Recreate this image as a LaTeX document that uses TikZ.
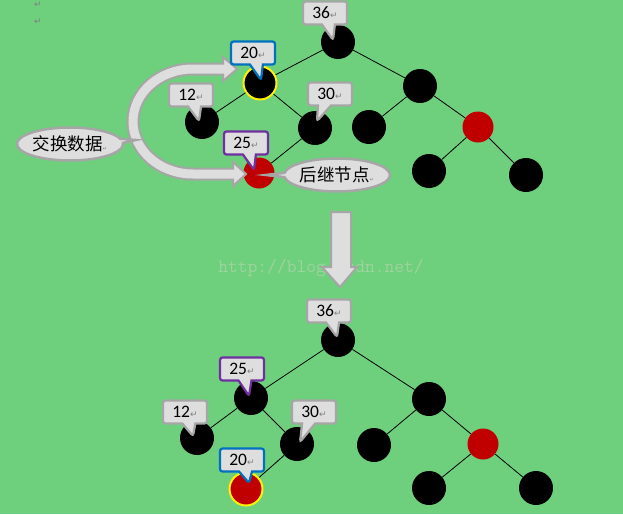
\documentclass[tikz,border=0pt]{standalone}
\usepackage{fontspec}
\setmainfont{Carlito}
\newfontfamily\cjk{Noto Sans CJK SC}
\newfontfamily\symf{DejaVu Sans}
\usetikzlibrary{shapes.callouts}

\definecolor{bggreen}{RGB}{110,207,125}
\definecolor{boxfill}{RGB}{222,222,222}
\definecolor{boxline}{RGB}{166,166,166}
\definecolor{selblue}{RGB}{0,112,192}
\definecolor{selpurple}{RGB}{112,48,160}
\definecolor{nodered}{RGB}{192,0,0}
\definecolor{markgray}{RGB}{128,128,128}
\definecolor{wmark}{RGB}{158,212,158}

\newcommand{\ret}{{\symf\fontsize{9}{9}\selectfont\color{markgray}↵}}

\tikzset{
  bnode/.style={circle, fill=black, minimum size=34, inner sep=0},
  rnode/.style={circle, fill=nodered, minimum size=31, inner sep=0},
  hinode/.style={circle, fill=#1, draw=yellow, line width=2, minimum size=33, inner sep=0},
  link/.style={line width=0.8},
  keybox/.style={rectangle callout, rounded corners=2.5, fill=boxfill, draw=#1,
    line width=2.2, minimum width=44, minimum height=23, inner sep=0,
    callout pointer width=13, font=\fontsize{17.5}{17.5}\selectfont},
  saybox/.style={ellipse callout, fill=boxfill, draw=boxline, line width=2.5,
    minimum width=106, minimum height=33, inner sep=0,
    font=\cjk\fontsize{17.5}{17.5}\selectfont},
  shaft/.style={line width=#1, line cap=butt},
  arrowhd/.style={fill=boxfill, draw=boxline, line width=2, line join=miter}
}

\begin{document}
\begin{tikzpicture}[x=1pt, y=-1pt]
\fill[bggreen] (0,0) rectangle (623,514);
\useasboundingbox (0,0) rectangle (623,514);

% paragraph marks and watermark
\node (ret1) at (38,5) {\ret};
\node (ret2) at (38,22) {\ret};
\node[text=wmark, font=\ttfamily\fontsize{19}{19}\selectfont] (wm) at (321,268) {http://blog.csdn.net/};

% top tree
\node[bnode] (a36) at (338,42) {};
\node[hinode=black] (a20) at (260,83) {};
\node[bnode] (a12) at (202,122) {};
\node[bnode] (a30) at (315,128) {};
\node[rnode] (a25) at (259,173) {};
\node[bnode] (aR) at (420,86) {};
\node[bnode] (aRL) at (369,127) {};
\node[rnode] (aRR) at (478,127) {};
\node[bnode] (aRRL) at (429,171) {};
\node[bnode] (aRRR) at (526,175) {};

\draw[link] (a36) -- (a20);
\draw[link] (a36) -- (aR);
\draw[link] (a20) -- (a12);
\draw[link] (a20) -- (a30);
\draw[link] (a30) -- (a25);
\draw[link] (aR) -- (aRL);
\draw[link] (aR) -- (aRR);
\draw[link] (aRR) -- (aRRL);
\draw[link] (aRR) -- (aRRR);

% swap arrow
\draw[shaft=13, boxline] (226,69) -- (193,69) arc[start angle=270, end angle=90, x radius=60, y radius=52.5] -- (235,174);
\filldraw[arrowhd] (223,57) -- (237,69) -- (223,81) -- cycle;
\filldraw[arrowhd] (233,162) -- (246,174) -- (233,186) -- cycle;
\draw[shaft=9, boxfill] (225,69) -- (193,69) arc[start angle=270, end angle=90, x radius=60, y radius=52.5] -- (235,174);

% down arrow
\filldraw[arrowhd] (331,212) -- (351,212) -- (351,267) -- (357,267) -- (340,287)
  -- (322,267) -- (331,267) -- cycle;

% bottom tree
\node[bnode] (b36) at (338,340) {};
\node[bnode] (b25) at (251,398) {};
\node[bnode] (b12) at (197,438) {};
\node[bnode] (b30) at (297,444) {};
\node[hinode=nodered] (b20) at (246,489) {};
\node[bnode] (bR) at (429,399) {};
\node[bnode] (bRL) at (374,445) {};
\node[rnode] (bRR) at (483,444) {};
\node[bnode] (bRRL) at (429,488) {};
\node[bnode] (bRRR) at (536,488) {};

\draw[link] (b36) -- (b25);
\draw[link] (b36) -- (bR);
\draw[link] (b25) -- (b12);
\draw[link] (b25) -- (b30);
\draw[link] (b30) -- (b20);
\draw[link] (bR) -- (bRL);
\draw[link] (bR) -- (bRR);
\draw[link] (bRR) -- (bRRL);
\draw[link] (bRR) -- (bRRR);

% labels, top
\node[keybox=boxline, callout absolute pointer={(333,40)}] (ka36) at (325,13) {36\ret};
\node[keybox=selblue, callout absolute pointer={(261,80)}] (ka20) at (253,53) {20\ret};
\node[keybox=boxline, callout absolute pointer={(199,121)}] (ka12) at (191,95) {12\ret};
\node[keybox=boxline, callout absolute pointer={(317,121)}] (ka30) at (330,94) {30\ret};
\node[keybox=selpurple, callout absolute pointer={(254,170)}] (ka25) at (246,143) {25\ret};

\node[saybox, callout absolute pointer={(136,140)}] (swap) at (70,144) {交换数据{\tiny\color{markgray}\symf ↵}};
\node[saybox, callout absolute pointer={(266,175)}] (succ) at (337,175) {后继节点{\tiny\color{markgray}\symf ↵}};

% labels, bottom
\node[keybox=boxline, callout absolute pointer={(337,337)}] (kb36) at (329,311) {36\ret};
\node[keybox=selpurple, callout absolute pointer={(249,396)}] (kb25) at (242,369) {25\ret};
\node[keybox=boxline, callout absolute pointer={(193,436)}] (kb12) at (185,412) {12\ret};
\node[keybox=boxline, callout absolute pointer={(300,442)}] (kb30) at (314,412) {30\ret};
\node[keybox=selblue, callout absolute pointer={(249,483)}] (kb20) at (242,460) {20\ret};

\end{tikzpicture}
\end{document}
